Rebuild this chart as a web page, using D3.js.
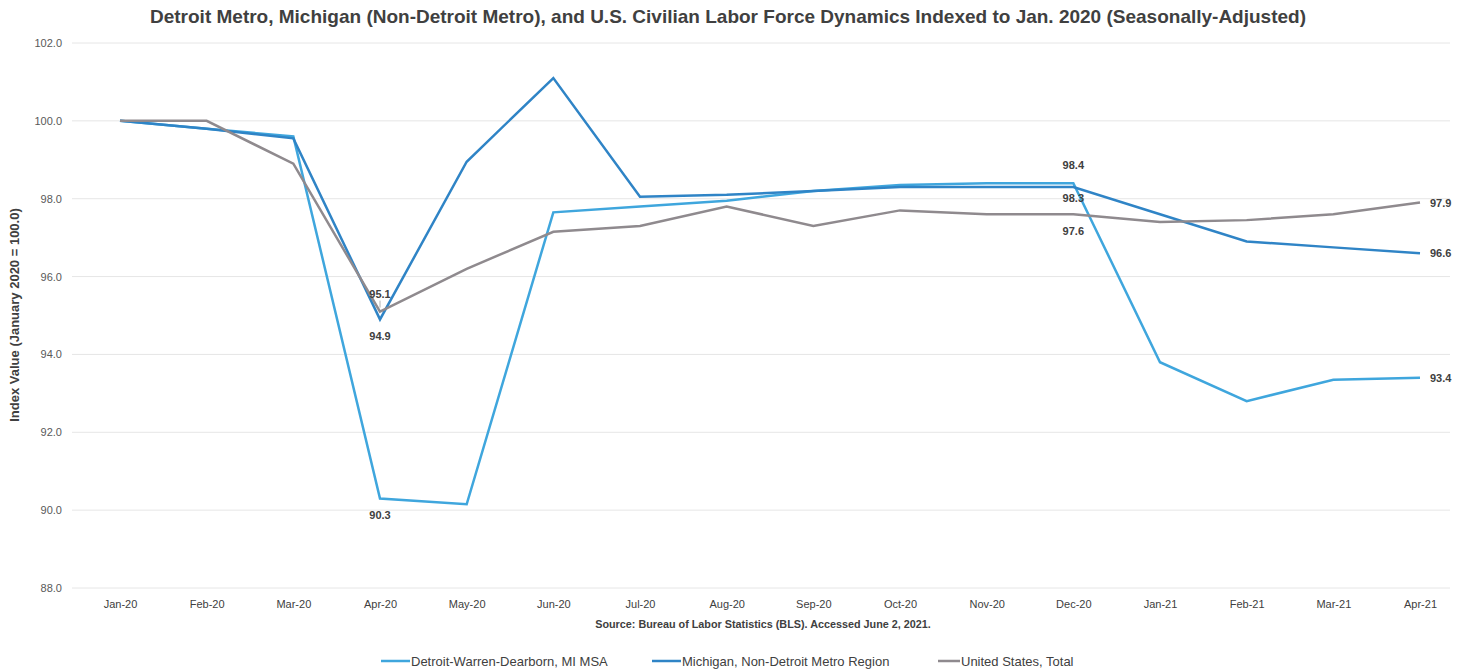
<!DOCTYPE html>
<html>
<head>
<meta charset="utf-8">
<script src="https://cdn.jsdelivr.net/npm/d3@7"></script>
<style>
  html, body { margin: 0; padding: 0; background: #fff; }
  svg { display: block; font-family: "Liberation Sans", Arial, sans-serif; }
</style>
</head>
<body>
<svg id="chart" width="1462" height="671"></svg>
<script>
// Monthly categories
const months = ["Jan-20","Feb-20","Mar-20","Apr-20","May-20","Jun-20","Jul-20","Aug-20",
                "Sep-20","Oct-20","Nov-20","Dec-20","Jan-21","Feb-21","Mar-21","Apr-21"];

// Civilian labor force indexed to Jan. 2020 = 100
const detroitMSA = [100.0, 99.8, 99.6, 90.3, 90.15, 97.65, 97.8, 97.95, 98.2, 98.35, 98.4, 98.4, 93.8, 92.8, 93.35, 93.4];
const michiganNonMetro = [100.0, 99.8, 99.55, 94.9, 98.95, 101.1, 98.05, 98.1, 98.2, 98.3, 98.3, 98.3, 97.6, 96.9, 96.75, 96.6];
const unitedStates = [100.0, 100.0, 98.9, 95.1, 96.2, 97.15, 97.3, 97.8, 97.3, 97.7, 97.6, 97.6, 97.4, 97.45, 97.6, 97.9];

const yTicks = [88, 90, 92, 94, 96, 98, 100, 102];

const seriesNames = ["Detroit-Warren-Dearborn, MI MSA", "Michigan, Non-Detroit Metro Region", "United States, Total"];
const seriesColors = ["#3fa6dd", "#2f84c6", "#8f8a8e"];

// Labeled points: [series index, month, placement]
const labeled = [
  [2, "Apr-20", "above"], [1, "Apr-20", "below"], [0, "Apr-20", "below"],
  [0, "Dec-20", "above"], [1, "Dec-20", "belowNear"], [2, "Dec-20", "below"],
  [2, "Apr-21", "right"], [1, "Apr-21", "right"], [0, "Apr-21", "right"]
];

const allSeries = [detroitMSA, michiganNonMetro, unitedStates];

const svg = d3.select("#chart");

const x = d3.scalePoint().domain(months).range([120, 1420]);
const y = d3.scaleLinear().domain([88, 102]).range([588, 43]);

// Title
svg.append("text")
  .attr("x", 728).attr("y", 23)
  .attr("text-anchor", "middle")
  .attr("font-size", 19).attr("font-weight", "bold")
  .attr("fill", "#404040")
  .text("Detroit Metro, Michigan (Non-Detroit Metro), and U.S. Civilian Labor Force Dynamics Indexed to Jan. 2020 (Seasonally-Adjusted)");

// Horizontal gridlines
svg.append("g").selectAll("line").data(yTicks).join("line")
  .attr("x1", 72).attr("x2", 1450)
  .attr("y1", d => y(d)).attr("y2", d => y(d))
  .attr("stroke", "#e6e6e6").attr("stroke-width", 1);

// Y axis (labels only)
const yAxis = d3.axisLeft(y).tickValues(yTicks).tickFormat(d3.format(".1f")).tickSize(0).tickPadding(0);
const gy = svg.append("g").attr("transform", "translate(62,0)").call(yAxis);
gy.select(".domain").remove();
gy.selectAll("text").attr("font-size", 11).attr("fill", "#595959").attr("font-family", "Liberation Sans, Arial, sans-serif");

// X axis (labels only)
const xAxis = d3.axisBottom(x).tickSize(0).tickPadding(0);
const gx = svg.append("g").attr("transform", "translate(0,600)").call(xAxis);
gx.select(".domain").remove();
gx.selectAll("text").attr("font-size", 11).attr("fill", "#404040").attr("font-family", "Liberation Sans, Arial, sans-serif");

// Y axis title
svg.append("text")
  .attr("transform", "translate(19,315) rotate(-90)")
  .attr("text-anchor", "middle")
  .attr("font-size", 13).attr("font-weight", "bold")
  .attr("fill", "#404040")
  .text("Index Value (January 2020 = 100.0)");

// Source note
svg.append("text")
  .attr("x", 763).attr("y", 628)
  .attr("text-anchor", "middle")
  .attr("font-size", 10.8).attr("font-weight", "bold")
  .attr("fill", "#404040")
  .text("Source: Bureau of Labor Statistics (BLS). Accessed June 2, 2021.");

// Lines
const line = d3.line().x((d, i) => x(months[i])).y(d => y(d));
svg.append("g").selectAll("path").data(allSeries).join("path")
  .attr("d", d => line(d))
  .attr("fill", "none")
  .attr("stroke", (d, i) => seriesColors[i])
  .attr("stroke-width", 2.5)
  .attr("stroke-linejoin", "miter");

// Data labels
const lbl = svg.append("g").attr("font-size", 11).attr("font-weight", "bold").attr("fill", "#404040");
labeled.forEach(([si, m, place]) => {
  const v = allSeries[si][months.indexOf(m)];
  const px = x(m), py = y(v);
  let tx = px, ty = py, anchor = "middle";
  if (place === "above") ty = py - 14;
  else if (place === "below") ty = py + 21;
  else if (place === "belowNear") ty = py + 15;
  else if (place === "right") { tx = px + 10; ty = py + 4; anchor = "start"; }
  if (si === 2 && m === "Apr-20") {
    lbl.append("line")
      .attr("x1", px).attr("x2", px).attr("y1", py - 11).attr("y2", py - 4)
      .attr("stroke", "#a0a0a0").attr("stroke-width", 0.8);
  }
  lbl.append("text").attr("x", tx).attr("y", ty).attr("text-anchor", anchor).text(v.toFixed(1));
});

// Legend
const legendX = [381, 652, 938];
const legendLen = [29, 29, 22];
const lg = svg.append("g").attr("font-size", 13).attr("fill", "#404040");
seriesNames.forEach((name, i) => {
  const g = lg.append("g").attr("transform", `translate(${legendX[i]},661)`);
  g.append("line").attr("x1", 0).attr("x2", legendLen[i]).attr("y1", 0).attr("y2", 0)
    .attr("stroke", seriesColors[i]).attr("stroke-width", 2.5);
  g.append("text").attr("x", legendLen[i] + 1).attr("y", 4.5).text(name);
});
</script>
</body>
</html>
